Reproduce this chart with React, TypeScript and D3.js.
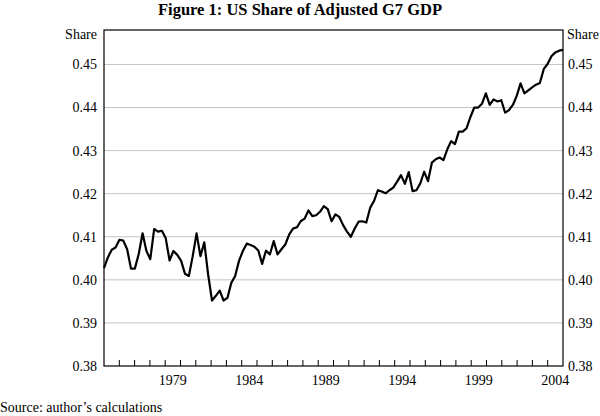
import { useEffect, useRef } from "react";
import * as d3 from "d3";

// quarterly US share of adjusted G7 GDP, 1975Q1 - 2004Q4
const startYear = 1975;
const endYear = 2005;
const shares = [
  0.4027, 0.4052, 0.4070, 0.4075, 0.4093, 0.4091, 0.4071, 0.4026, 0.4026, 0.4060,
  0.4108, 0.4067, 0.4048, 0.4118, 0.4112, 0.4114, 0.4097, 0.4045, 0.4067, 0.4058,
  0.4044, 0.4014, 0.4009, 0.4055, 0.4108, 0.4055, 0.4087, 0.4012, 0.3952, 0.3963,
  0.3975, 0.3952, 0.3958, 0.3993, 0.4009, 0.4044, 0.4067, 0.4084, 0.4081, 0.4077,
  0.4068, 0.4037, 0.4068, 0.4059, 0.4090, 0.4059, 0.4071, 0.4082, 0.4105, 0.4119,
  0.4122, 0.4136, 0.4142, 0.4161, 0.4148, 0.4150, 0.4158, 0.4171, 0.4164, 0.4136,
  0.4152, 0.4146, 0.4127, 0.4112, 0.4100, 0.4119, 0.4135, 0.4136, 0.4133, 0.4167,
  0.4183, 0.4208, 0.4205, 0.4201, 0.4208, 0.4214, 0.4228, 0.4243, 0.4223, 0.4250,
  0.4206, 0.4208, 0.4224, 0.4251, 0.4229, 0.4272, 0.4280, 0.4284, 0.4278, 0.4303,
  0.4322, 0.4315, 0.4344, 0.4344, 0.4352, 0.4378, 0.4400, 0.4400, 0.4409, 0.4433,
  0.4406, 0.4419, 0.4414, 0.4417, 0.4388, 0.4394, 0.4406, 0.4427, 0.4456, 0.4433,
  0.4440, 0.4447, 0.4453, 0.4457, 0.4489, 0.4501, 0.4519, 0.4528, 0.4532, 0.4534,
];
const quarters = shares.map((_, i) => `${startYear + Math.floor(i / 4)}Q${(i % 4) + 1}`);
const yTicks = [0.38, 0.39, 0.4, 0.41, 0.42, 0.43, 0.44, 0.45];
const yearLabels = [1979, 1984, 1989, 1994, 1999, 2004];

export default function App() {
  const ref = useRef<SVGSVGElement | null>(null);

  useEffect(() => {
    if (!ref.current) return;
    const svg = d3.select(ref.current);
    svg.selectAll("*").remove();

    const width = 600;
    const height = 416;
    const margin = { top: 30, right: 37, bottom: 50, left: 104 };
    const font = "'Liberation Serif', 'Times New Roman', serif";

    svg.attr("width", width).attr("height", height);

    const x = d3.scalePoint<string>()
      .domain(quarters)
      .range([margin.left, width - margin.right]);

    const years = d3.scaleLinear()
      .domain([startYear, endYear])
      .range([margin.left, width - margin.right]);

    const y = d3.scaleLinear()
      .domain([0.38, 0.458])
      .range([height - margin.bottom, margin.top]);

    // gridlines
    svg.append("g")
      .selectAll("line")
      .data(yTicks.slice(1))
      .enter()
      .append("line")
      .attr("x1", margin.left)
      .attr("x2", width - margin.right)
      .attr("y1", d => y(d))
      .attr("y2", d => y(d))
      .attr("stroke", "#c4c4c4")
      .attr("stroke-width", 1);

    // year ticks on the bottom axis
    svg.append("g")
      .selectAll("line")
      .data(d3.range(startYear + 1, endYear))
      .enter()
      .append("line")
      .attr("x1", d => years(d))
      .attr("x2", d => years(d))
      .attr("y1", height - margin.bottom)
      .attr("y2", height - margin.bottom - 6)
      .attr("stroke", "#000");

    // frame
    svg.append("rect")
      .attr("x", margin.left)
      .attr("y", margin.top)
      .attr("width", width - margin.left - margin.right)
      .attr("height", height - margin.top - margin.bottom)
      .attr("fill", "none")
      .attr("stroke", "#000")
      .attr("stroke-width", 1.2);

    // series
    const line = d3.line<number>()
      .x((_, i) => x(quarters[i])!)
      .y(d => y(d));

    svg.append("path")
      .datum(shares)
      .attr("d", line)
      .attr("fill", "none")
      .attr("stroke", "#000")
      .attr("stroke-width", 2.2)
      .attr("stroke-linejoin", "round");

    // y labels, both sides
    const fmt = d3.format(".2f");
    svg.append("g")
      .selectAll("text")
      .data(yTicks)
      .enter()
      .append("text")
      .attr("x", margin.left - 7)
      .attr("y", d => y(d))
      .attr("dy", "0.35em")
      .attr("text-anchor", "end")
      .attr("font-family", font)
      .attr("font-size", 14)
      .text(d => fmt(d));

    svg.append("g")
      .selectAll("text")
      .data(yTicks)
      .enter()
      .append("text")
      .attr("x", width - margin.right + 5)
      .attr("y", d => y(d))
      .attr("dy", "0.35em")
      .attr("font-family", font)
      .attr("font-size", 14)
      .text(d => fmt(d));

    svg.append("text")
      .attr("x", margin.left - 7)
      .attr("y", 34)
      .attr("dy", "0.35em")
      .attr("text-anchor", "end")
      .attr("font-family", font)
      .attr("font-size", 14)
      .text("Share");

    svg.append("text")
      .attr("x", width - margin.right + 4)
      .attr("y", 34)
      .attr("dy", "0.35em")
      .attr("font-family", font)
      .attr("font-size", 14)
      .text("Share");

    // year labels centred in their year
    svg.append("g")
      .selectAll("text")
      .data(yearLabels)
      .enter()
      .append("text")
      .attr("x", d => years(d + 0.5))
      .attr("y", height - margin.bottom + 19)
      .attr("text-anchor", "middle")
      .attr("font-family", font)
      .attr("font-size", 14)
      .text(d => d);

    // title
    svg.append("text")
      .attr("x", width / 2)
      .attr("y", 15)
      .attr("text-anchor", "middle")
      .attr("font-family", font)
      .attr("font-size", 16.5)
      .attr("font-weight", "bold")
      .text("Figure 1: US Share of Adjusted G7 GDP");

    svg.append("text")
      .attr("x", 0)
      .attr("y", 412)
      .attr("font-family", font)
      .attr("font-size", 14)
      .text("Source: author’s calculations");
  }, []);

  return (
    <div style={{ position: "absolute", left: 0, top: 0 }}>
      <svg ref={ref} />
    </div>
  );
}
